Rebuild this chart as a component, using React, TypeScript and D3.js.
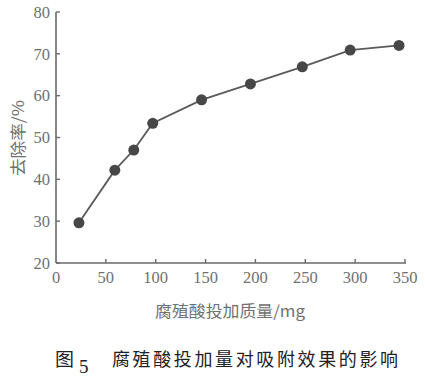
import React from "react";
import * as d3 from "d3";

const doses = [23, 59, 78, 97, 146, 195, 247, 295, 344];
const removal = [29.6, 42.2, 47.0, 53.4, 59.0, 62.8, 66.9, 70.9, 72.0];
const xTicks = [0, 50, 100, 150, 200, 250, 300, 350];
const yTicks = [20, 30, 40, 50, 60, 70, 80];
const xLabel = "腐殖酸投加质量/mg";
const yLabel = "去除率/%";
const captionPrefix = "图";
const captionNum = "5";
const captionText = "腐殖酸投加量对吸附效果的影响";

export default function App() {
  const W = 425, H = 382;
  const x = d3.scaleLinear().domain([0, 350]).range([56, 405]);
  const y = d3.scaleLinear().domain([20, 80]).range([263, 12]);
  const pts = doses.map((d, i) => [x(d), y(removal[i])] as [number, number]);
  const line = d3.line()(pts) || "";
  const axisColor = "#6a6a6a";
  const textColor = "#707070";
  const serifStyle = { fontFamily: "Times New Roman, Liberation Serif, serif" };
  const cjk = "'Noto Sans CJK SC', sans-serif";
  return (
    <svg width={W} height={H} style={{ position: "absolute", left: 0, top: 0, background: "#fff" }}>
      <line x1={x(0)} x2={x(350) + 1} y1={y(20)} y2={y(20)} stroke={axisColor} strokeWidth={1.6} />
      <line x1={x(0)} x2={x(0)} y1={y(20)} y2={y(80)} stroke={axisColor} strokeWidth={1.6} />
      {yTicks.map((t) => (
        <g key={"y" + t}>
          <line x1={x(0)} x2={x(0) + 4} y1={y(t)} y2={y(t)} stroke={axisColor} strokeWidth={1.4} />
          <text x={x(0) - 6} y={y(t)} dy="0.35em" textAnchor="end" style={serifStyle} fontSize={16.5} fill={textColor}>{t}</text>
        </g>
      ))}
      {xTicks.map((t) => (
        <g key={"x" + t}>
          {t > 0 && <line x1={x(t)} x2={x(t)} y1={y(20)} y2={y(20) - 4} stroke={axisColor} strokeWidth={1.4} />}
          <text x={x(t)} y={y(20) + 20} textAnchor="middle" style={serifStyle} fontSize={16.5} fill={textColor}>{t}</text>
        </g>
      ))}
      <path d={line} fill="none" stroke="#5a5a5a" strokeWidth={1.8} />
      {pts.map((p, i) => (
        <circle key={i} cx={p[0]} cy={p[1]} r={5.5} fill="#474747" />
      ))}
      <text x={0} y={0} transform={`translate(24,138) rotate(-90)`} textAnchor="middle" fontFamily={cjk} fontSize={16} fill={textColor} textLength={76} lengthAdjust="spacingAndGlyphs">{yLabel}</text>
      <text x={155} y={317} fontFamily={cjk} fontSize={16} fill={textColor} textLength={150} lengthAdjust="spacingAndGlyphs">{xLabel}</text>
      <text x={55} y={366} fontFamily={cjk} fontSize={18} fill="#222" textLength={19} lengthAdjust="spacingAndGlyphs">{captionPrefix}</text>
      <text x={79} y={373} style={serifStyle} fontSize={19} fill="#222">{captionNum}</text>
      <text x={112} y={366} fontFamily={cjk} fontSize={18} fill="#222" textLength={286} lengthAdjust="spacing">{captionText}</text>
    </svg>
  );
}
